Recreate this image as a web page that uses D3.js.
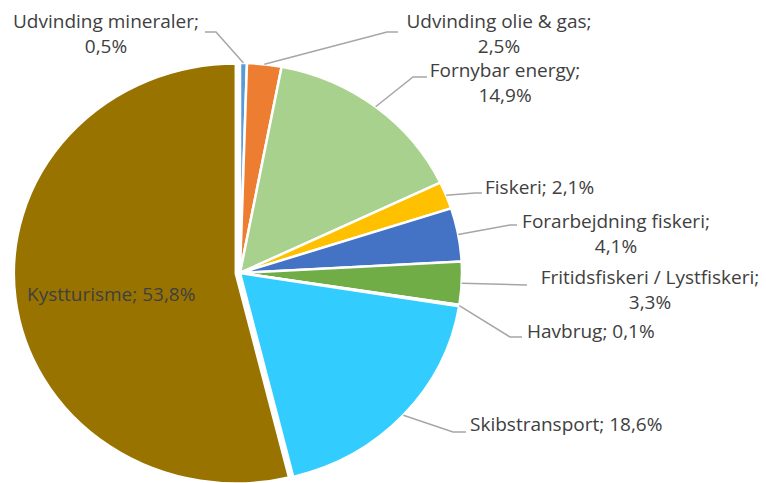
<!DOCTYPE html>
<html>
<head>
<meta charset="utf-8">
<script src="https://cdn.jsdelivr.net/npm/d3@7"></script>
<style>
  body { margin: 0; background: #fff; }
  svg { display: block; }
  text { font-family: "Open Sans", Lato, sans-serif; font-size: 19px; fill: #404040; }
</style>
</head>
<body>
<script>
// Data (share in %)
const categories = ['Udvinding mineraler', 'Udvinding olie & gas', 'Fornybar energy', 'Fiskeri',
	'Forarbejdning fiskeri', 'Fritidsfiskeri / Lystfiskeri', 'Havbrug', 'Skibstransport', 'Kystturisme'];
const shares = [0.5, 2.5, 14.9, 2.1, 4.1, 3.3, 0.1, 18.6, 53.8];
const colors = ['#5b9bd5', '#ed7d31', '#a9d18e', '#ffc000', '#4472c4', '#70ad47', '#a5a5a5', '#33ccff', '#997300'];

const width = 766, height = 483;
const cx = 240, cy = 273, r = 210, sx = 1.057;

// label layout: text position, which lines, leader elbow + end
const labelLayout = [
	{ x: 106, y: 28, anchor: 'middle', split: true, elbow: [216, 32], end: [205, 32] },
	{ x: 499, y: 28, anchor: 'middle', split: true, elbow: [387, 32], end: [398, 32] },
	{ x: 505, y: 77, anchor: 'middle', split: true, elbow: [413, 77], end: [427, 77] },
	{ x: 485, y: 194, anchor: 'start', split: false, elbow: [475, 193], end: [482, 193] },
	{ x: 616, y: 228, anchor: 'middle', split: true, elbow: [510, 225], end: [517, 225] },
	{ x: 650, y: 284, anchor: 'middle', split: true, elbow: null, end: [527, 285] },
	{ x: 527, y: 338, anchor: 'start', split: false, elbow: [510, 337], end: [522, 337] },
	{ x: 470, y: 431, anchor: 'start', split: false, elbow: [453, 432], end: [466, 432] },
	{ x: 27, y: 301, anchor: 'start', split: false, elbow: null, end: null }
];

const fmt = v => v.toFixed(1).replace('.', ',') + '%';

const svg = d3.select('body').append('svg')
	.attr('width', width)
	.attr('height', height);

const pie = d3.pie().sort(null).value(d => d)(shares);
const arc = d3.arc().innerRadius(0).outerRadius(r);
const edge = d3.arc().innerRadius(r).outerRadius(r);

const g = svg.append('g')
	.attr('transform', `translate(${cx},${cy}) scale(${sx},1)`);

g.selectAll('path')
	.data(pie)
	.enter()
	.append('path')
	.attr('transform', (d, i) => {
		// the big slice is pulled out a little
		if (i !== 8) return null;
		const a = (d.startAngle + d.endAngle) / 2;
		return `translate(${4 * Math.sin(a)},${-4 * Math.cos(a)})`;
	})
	.attr('d', arc)
	.attr('fill', (d, i) => colors[i])
	.attr('stroke', '#fff')
	.attr('stroke-width', 2.5)
	.attr('vector-effect', 'non-scaling-stroke');

// leader lines
pie.forEach((d, i) => {
	const L = labelLayout[i];
	if (!L.end) return;
	const c = edge.centroid(d);
	const pts = [[cx + c[0] * sx, cy + c[1]]];
	if (L.elbow) pts.push(L.elbow);
	pts.push(L.end);
	svg.append('path')
		.attr('d', d3.line()(pts))
		.attr('fill', 'none')
		.attr('stroke', '#a6a6a6')
		.attr('stroke-width', 1.5);
});

// labels
pie.forEach((d, i) => {
	const L = labelLayout[i];
	const t = svg.append('text')
		.attr('x', L.x)
		.attr('y', L.y)
		.attr('text-anchor', L.anchor);
	if (L.split) {
		t.append('tspan').attr('x', L.x).text(categories[i] + ';');
		t.append('tspan').attr('x', L.x).attr('dy', 24.5).text(fmt(shares[i]));
	} else {
		t.text(categories[i] + '; ' + fmt(shares[i]));
	}
});
</script>
</body>
</html>
